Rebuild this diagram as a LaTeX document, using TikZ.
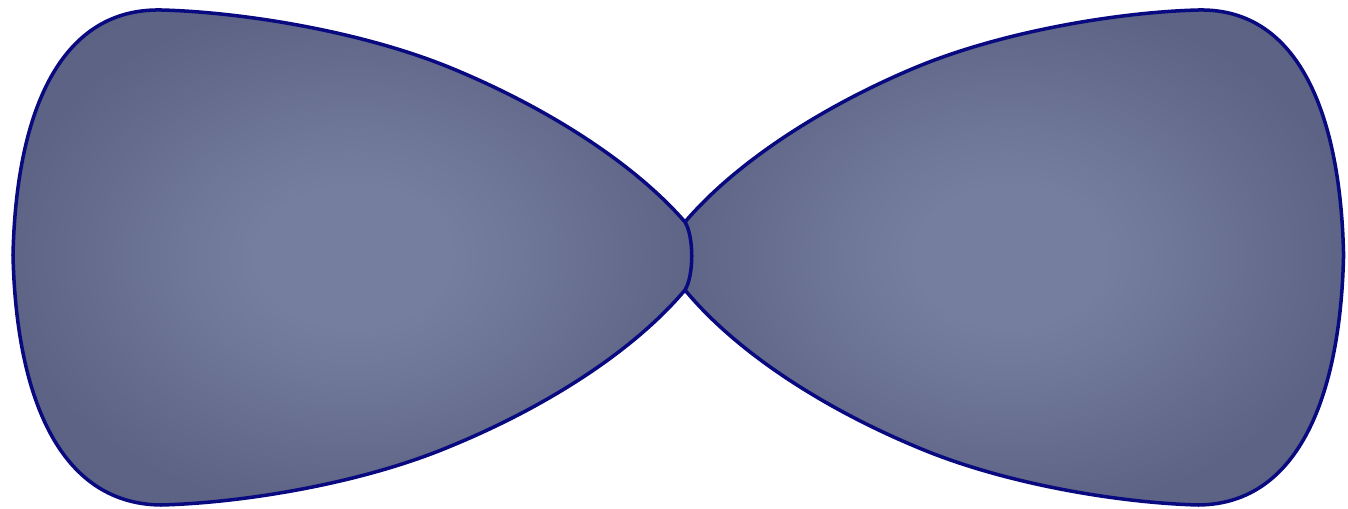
\documentclass[tikz,border=0pt]{standalone}
\definecolor{lobeline}{RGB}{10,10,128}
\definecolor{lobeA}{RGB}{118,126,160}
\definecolor{lobeB}{RGB}{112,120,154}
\definecolor{lobeC}{RGB}{100,107,141}
\definecolor{lobeD}{RGB}{92,99,133}
\definecolor{lobeE}{RGB}{88,95,128}
\pgfdeclareradialshading{lobeshade}{\pgfpoint{0bp}{0bp}}{%
  color(0bp)=(lobeA); color(7bp)=(lobeA); color(12bp)=(lobeB);
  color(20bp)=(lobeC); color(26bp)=(lobeD); color(50bp)=(lobeE)}
\tikzset{
  lobe/.style={draw=lobeline, line width=2pt, line join=round, shade, shading=lobeshade},
  pics/lobepic/.style={code={
    \path[lobe] (0,222)
      .. controls (-54,160) and (-144,105) .. (-234,68)
      .. controls (-324,31) and (-444,12) .. (-524,10)
      .. controls (-628,8) and (-669,118) .. (-672,255)
      .. controls (-669,392) and (-628,504) .. (-524,505)
      .. controls (-444,503) and (-324,484) .. (-234,446)
      .. controls (-144,409) and (-54,354) .. (0,290)
      .. controls (9,275) and (9,237) .. (0,222) -- cycle;
  }}
}
\begin{document}
\begin{tikzpicture}[x=0.02cm, y=-0.02cm]
  \useasboundingbox (0,0) rectangle (1348,509);
  \pic[xscale=-0.98] (right) at (685,0) {lobepic};
  \pic (left) at (685,0) {lobepic};
\end{tikzpicture}
\end{document}
